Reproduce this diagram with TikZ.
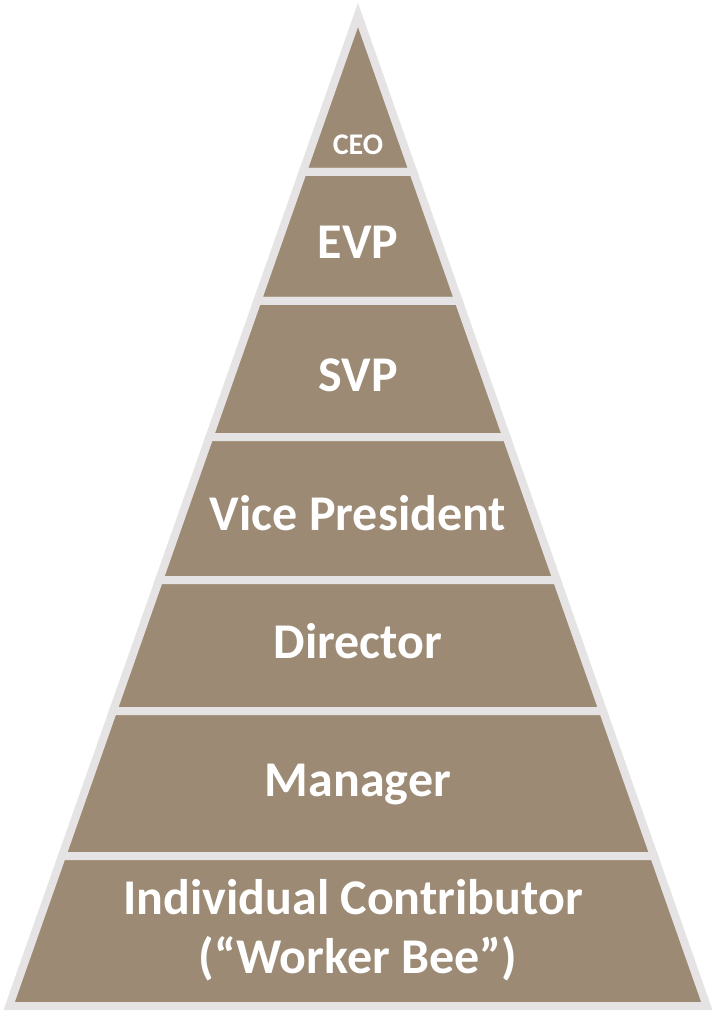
\documentclass[tikz,border=0pt]{standalone}
\usepackage{fontspec}
\setmainfont{Carlito}
\usetikzlibrary{calc}
\definecolor{tierbrown}{RGB}{156,138,116}
\definecolor{tiergray}{RGB}{229,227,227}
\tikzset{
  tier/.style={fill=tierbrown, draw=tiergray, line width=8pt, line join=miter, miter limit=10},
  biglabel/.style={text=white, font=\fontsize{50}{59}\selectfont\bfseries, align=center, inner sep=0pt, anchor=base},
  smalllabel/.style={text=white, font=\fontsize{30}{36}\selectfont\bfseries, inner sep=0pt, anchor=base}
}
\begin{document}
\begin{tikzpicture}[x=1pt,y=-1pt]
\useasboundingbox (0,0) rectangle (712,1017);
\fill[white] (0,0) rectangle (712,1017);
\coordinate (A) at (358,15);
\coordinate (BL) at (9.2,1006);
\coordinate (BR) at (706.8,1006);
% boundary points
\foreach \n/\y in {1/172,2/301,3/437,4/580,5/711,6/856,7/1006}{
  \pgfmathsetmacro{\t}{(\y-15)/991}
  \coordinate (L\n) at ($(A)!\t!(BL)$);
  \coordinate (R\n) at ($(A)!\t!(BR)$);
}
\draw[tier] (A) -- (R1) -- (L1) -- cycle;
\draw[tier] (L1) -- (R1) -- (R2) -- (L2) -- cycle;
\draw[tier] (L2) -- (R2) -- (R3) -- (L3) -- cycle;
\draw[tier] (L3) -- (R3) -- (R4) -- (L4) -- cycle;
\draw[tier] (L4) -- (R4) -- (R5) -- (L5) -- cycle;
\draw[tier] (L5) -- (R5) -- (R6) -- (L6) -- cycle;
\draw[tier] (L6) -- (R6) -- (R7) -- (L7) -- cycle;
\node[smalllabel] (ceo) at (358,154.5) {CEO};
\node[biglabel] (evp) at (358,258) {EVP};
\node[biglabel] (svp) at (358,391) {SVP};
\node[biglabel] (vp) at (358,530) {Vice President};
\node[biglabel] (dir) at (358,658) {Director};
\node[biglabel] (mgr) at (358,796) {Manager};
\node[biglabel] (ic1) at (353,914) {Individual Contributor};
\node[biglabel] (ic2) at (358,973) {(“Worker Bee”)};
\end{tikzpicture}
\end{document}
